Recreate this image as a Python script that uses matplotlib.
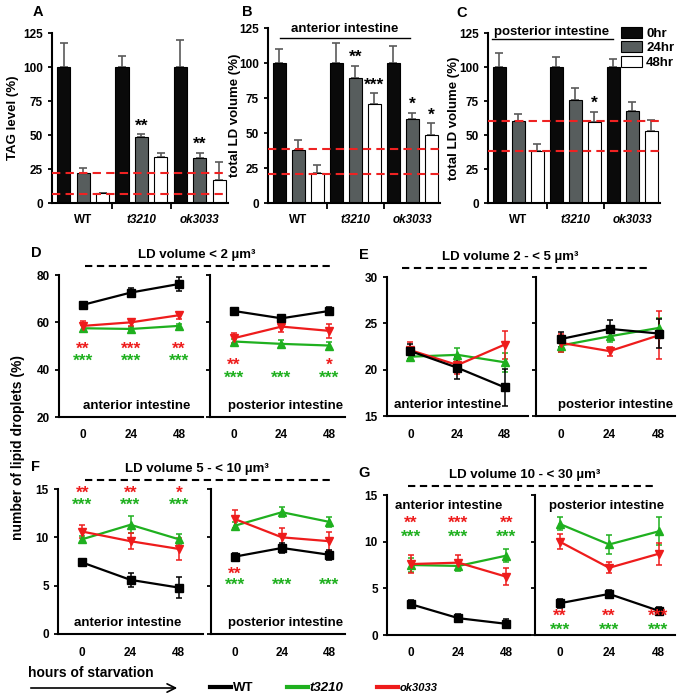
import matplotlib
matplotlib.use("Agg")
import matplotlib.pyplot as plt
from matplotlib.lines import Line2D
from matplotlib.patches import FancyArrowPatch

plt.rcParams["font.family"] = ["Liberation Sans", "DejaVu Sans"]
plt.rcParams["font.weight"] = "bold"
plt.rcParams["axes.labelweight"] = "bold"
plt.rcParams["axes.linewidth"] = 1.5

W, H = 685, 696

# ---------------- bar panels (A-C) ----------------
GROUPS = ["WT", "t3210", "ok3033"]
TIMEPOINTS = ["0hr", "24hr", "48hr"]
BAR_COLORS = ["#0a0a0a", "#575d5d", "white"]

A_MEAN = [[100, 22, 7], [100, 48.5, 34], [100, 33, 17]]
A_ERR = [[18, 3.5, 0.7], [8, 2, 2.5], [20, 4, 13]]
A_STARS = [["", "", ""], ["", "**", ""], ["", "**", ""]]
A_REF = [22, 6.5]

B_MEAN = [[100, 38, 21.5], [100, 89.5, 70.5], [100, 60, 48.5]]
B_ERR = [[10, 7, 6], [14, 8.5, 8], [12.5, 4.5, 8.5]]
B_STARS = [["", "", ""], ["", "**", "***"], ["", "*", "*"]]
B_REF = [38.5, 21]

C_MEAN = [[100, 60, 38.5], [100, 76, 59.5], [100, 67.5, 53]]
C_ERR = [[10, 5.5, 5], [7, 8.5, 7.5], [6, 6.5, 8]]
C_STARS = [["", "", ""], ["", "", "*"], ["", "", ""]]
C_REF = [60, 38]

# ---------------- line panels (D-G) ----------------
HOURS = [0, 24, 48]
STRAINS = ["WT", "t3210", "ok3033"]
LINE_COLORS = ["black", "#1fb01f", "#ee1c1c"]
MARKERS = ["s", "^", "v"]

D_ANT_MEAN = [[67.4, 72.6, 76.2], [57.5, 57.2, 58.5], [58.5, 60.0, 63.0]]
D_ANT_ERR = [[1.0, 2.0, 2.8], [1.5, 1.0, 1.0], [2.0, 1.6, 1.5]]
D_POST_MEAN = [[64.8, 61.7, 64.8], [51.9, 50.9, 50.2], [53.3, 58.2, 56.4]]
D_POST_ERR = [[1.0, 1.0, 1.5], [1.2, 1.5, 1.5], [2.0, 2.2, 3.0]]
D_ANT_STARS = [["**", "***", "**"], ["***", "***", "***"]]
D_POST_STARS = [["**", "", "*"], ["***", "***", "***"]]

E_ANT_MEAN = [[22.0, 20.2, 18.1], [21.4, 21.6, 20.8], [22.1, 20.5, 22.7]]
E_ANT_ERR = [[0.8, 1.2, 2.0], [0.5, 0.7, 1.0], [0.9, 1.0, 1.5]]
E_POST_MEAN = [[23.3, 24.4, 23.9], [22.6, 23.6, 24.5], [22.9, 22.0, 23.7]]
E_POST_ERR = [[0.8, 1.0, 1.6], [0.7, 0.6, 1.1], [1.0, 0.5, 2.6]]

F_ANT_MEAN = [[7.4, 5.6, 4.8], [9.8, 11.3, 9.8], [10.6, 9.6, 8.8]]
F_ANT_ERR = [[0.3, 0.7, 1.1], [0.3, 0.9, 0.5], [0.7, 0.8, 1.1]]
F_POST_MEAN = [[8.0, 8.9, 8.2], [11.2, 12.6, 11.6], [11.9, 10.0, 9.6]]
F_POST_ERR = [[0.4, 0.5, 0.5], [0.4, 0.5, 0.5], [0.9, 1.0, 1.0]]
F_ANT_STARS = [["**", "**", "*"], ["***", "***", "***"]]
F_POST_STARS = [["**", "", ""], ["***", "***", "***"]]

G_ANT_MEAN = [[3.3, 1.8, 1.2], [7.5, 7.4, 8.5], [7.6, 7.75, 6.25]]
G_ANT_ERR = [[0.4, 0.4, 0.5], [0.8, 0.5, 0.7], [1.0, 0.8, 0.9]]
G_POST_MEAN = [[3.4, 4.4, 2.6], [11.9, 9.7, 11.1], [10.0, 7.2, 8.7]]
G_POST_ERR = [[0.5, 0.4, 0.4], [0.7, 1.0, 1.5], [0.8, 0.6, 1.2]]
G_ANT_STARS = [["**", "***", "**"], ["***", "***", "***"]]
G_POST_STARS = [["**", "**", "***"], ["***", "***", "***"]]

fig = plt.figure(figsize=(W / 100, H / 100), dpi=100)


def px_axes(x0, y0, x1, y1):
    return fig.add_axes([x0 / W, 1 - y1 / H, (x1 - x0) / W, (y1 - y0) / H])


def fx(x):
    return x / W


def fy(y):
    return 1 - y / H


def fig_dashed(x0, x1, y):
    fig.add_artist(Line2D([fx(x0), fx(x1)], [fy(y), fy(y)], color="black",
                          lw=1.5, dashes=(3.5, 2.2)))


def bar_panel(ax, means, errs, stars, refs, ylabel, label_x):
    for g in range(3):
        for i in range(3):
            x = g * 3 + i
            ax.bar(x, means[g][i], width=0.67, color=BAR_COLORS[i],
                   edgecolor="black", linewidth=0.8, zorder=2)
            ax.errorbar(x, means[g][i], yerr=[[0], [errs[g][i]]], fmt="none",
                        ecolor="#5a5a5a", elinewidth=1.2, capsize=3,
                        capthick=1.2, zorder=1)
            if stars[g][i]:
                ax.text(x, means[g][i] + errs[g][i] + 0.5, stars[g][i],
                        ha="center", va="bottom", fontsize=12.5)
    for r in refs:
        ax.axhline(r, color="#ee2222", lw=1.5, ls=(0, (4, 2.5)), zorder=3)
    ax.set_ylim(0, 125)
    ax.set_xlim(-0.6, 8.45)
    ax.set_yticks([0, 25, 50, 75, 100, 125])
    ax.set_xticks([2.5, 5.5])
    ax.set_xticklabels([])
    ax.set_xticks([1, 4, 7], GROUPS, minor=True)
    ax.tick_params(axis="x", which="minor", length=0, pad=8, labelsize=8.5)
    ax.tick_params(axis="x", which="major", length=4, width=1.3)
    ax.tick_params(axis="y", length=3, width=1.3, labelsize=8.5)
    for k, lab in enumerate(ax.get_xticklabels(minor=True)):
        if k > 0:
            lab.set_style("italic")
    for s in ["top", "right"]:
        ax.spines[s].set_visible(False)
    ax.set_ylabel(ylabel, fontsize=9.5)
    ax.yaxis.set_label_coords(label_x, 0.5)


axA = px_axes(52, 33, 228, 203)
bar_panel(axA, A_MEAN, A_ERR, A_STARS, A_REF, "TAG level (%)", -0.19)
axB = px_axes(268, 28, 440, 203)
bar_panel(axB, B_MEAN, B_ERR, B_STARS, B_REF, "total LD volume (%)", -0.155)
axC = px_axes(488, 33, 660, 203)
bar_panel(axC, C_MEAN, C_ERR, C_STARS, C_REF, "total LD volume (%)", -0.16)

# region headers over B and C
fig.add_artist(Line2D([fx(280), fx(410)], [fy(38), fy(38)], color="black", lw=1))
fig.text(fx(345), fy(29), "anterior intestine", ha="center", va="center", fontsize=9.5)
fig.add_artist(Line2D([fx(492), fx(613)], [fy(39), fy(39)], color="black", lw=1))
fig.text(fx(552), fy(32), "posterior intestine", ha="center", va="center", fontsize=9.5)

handles = [plt.Rectangle((0, 0), 1, 1, facecolor=c, edgecolor="black", lw=0.8)
           for c in BAR_COLORS]
fig.legend(handles, TIMEPOINTS, loc="upper left",
           bbox_to_anchor=(fx(621), fy(27)), frameon=False, fontsize=9.5,
           handlelength=1.6, handleheight=0.9, handletextpad=0.3,
           labelspacing=0.1, borderaxespad=0, borderpad=0)

for letter, x, y in [("A", 38, 12), ("B", 247, 12), ("C", 462, 13)]:
    fig.text(fx(x), fy(y), letter, ha="center", va="center", fontsize=10.5)


# ---------------- line panels ----------------
def line_panel(ax, means, errs, ylim, yticks, show_labels):
    for k in [1, 2, 0]:
        ax.errorbar(HOURS, means[k], yerr=errs[k], color=LINE_COLORS[k],
                    marker=MARKERS[k], ms=5.5, lw=1.6, elinewidth=1.1,
                    capsize=2.5, capthick=1.1)
    ax.set_ylim(*ylim)
    ax.set_yticks(yticks)
    ax.set_xticks(HOURS)
    ax.tick_params(axis="x", length=0, pad=9, labelsize=8.5)
    ax.tick_params(axis="y", length=3, width=1.3, labelsize=8.5,
                   labelleft=show_labels)
    for s in ["top", "right"]:
        ax.spines[s].set_visible(False)


def put_stars(ax, stars, ys):
    for row, y, col in zip(stars, ys, [LINE_COLORS[2], LINE_COLORS[1]]):
        for h, s in zip(HOURS, row):
            if s:
                ax.text(h, y, s, color=col, ha="center", va="center",
                        fontsize=12.5)


def panel(letter, title, x_left, x_mid0, x_mid1, x_right, y_top, y_bot,
          ant_m, ant_e, post_m, post_e, ylim, yticks, title_x, dash_x):
    axl = px_axes(x_left, y_top, x_mid0, y_bot)
    axr = px_axes(x_mid1, y_top, x_right, y_bot)
    line_panel(axl, ant_m, ant_e, ylim, yticks, True)
    line_panel(axr, post_m, post_e, ylim, yticks, False)
    axl.set_xlim(-12, 60)
    axr.set_xlim(-12, 56)
    fig.text(fx(x_left - 23), fy(y_top - 22), letter, ha="center",
             va="center", fontsize=10.5)
    fig.text(fx(title_x), fy(y_top - 20), title, ha="center", va="center",
             fontsize=9.5)
    fig_dashed(dash_x[0], dash_x[1], y_top - 9)
    return axl, axr


dl, dr = panel("D", "LD volume < 2 µm³", 59, 203, 210, 345, 275, 417,
               D_ANT_MEAN, D_ANT_ERR, D_POST_MEAN, D_POST_ERR,
               (20, 80), [20, 40, 60, 80], 197, (85, 333))
put_stars(dl, D_ANT_STARS, [48.7, 43.5])
put_stars(dr, D_POST_STARS, [42.0, 36.5])
dl.text(0.54, 0.077, "anterior intestine", transform=dl.transAxes,
        ha="center", va="center", fontsize=9.5)
dr.text(0.56, 0.077, "posterior intestine", transform=dr.transAxes,
        ha="center", va="center", fontsize=9.5)

el, er = panel("E", "LD volume 2 - < 5 µm³", 387, 528, 536, 675, 277, 416,
               E_ANT_MEAN, E_ANT_ERR, E_POST_MEAN, E_POST_ERR,
               (15, 30), [15, 20, 25, 30], 510, (402, 650))
el.text(0.43, 0.08, "anterior intestine", transform=el.transAxes,
        ha="center", va="center", fontsize=9.5)
er.text(0.57, 0.08, "posterior intestine", transform=er.transAxes,
        ha="center", va="center", fontsize=9.5)

fl, fr = panel("F", "LD volume 5 - < 10 µm³", 58, 203, 211, 345, 489, 634,
               F_ANT_MEAN, F_ANT_ERR, F_POST_MEAN, F_POST_ERR,
               (0, 15), [0, 5, 10, 15], 197, (85, 333))
put_stars(fl, F_ANT_STARS, [14.6, 13.3])
put_stars(fr, F_POST_STARS, [6.2, 5.0])
fl.text(0.48, 0.075, "anterior intestine", transform=fl.transAxes,
        ha="center", va="center", fontsize=9.5)
fr.text(0.56, 0.075, "posterior intestine", transform=fr.transAxes,
        ha="center", va="center", fontsize=9.5)

gl, gr = panel("G", "LD volume 10 - < 30 µm³", 387, 530, 535, 675, 495, 635,
               G_ANT_MEAN, G_ANT_ERR, G_POST_MEAN, G_POST_ERR,
               (0, 15), [0, 5, 10, 15], 525, (408, 657))
put_stars(gl, G_ANT_STARS, [12.0, 10.5])
put_stars(gr, G_POST_STARS, [2.0, 0.55])
gl.text(0.43, 0.92, "anterior intestine", transform=gl.transAxes,
        ha="center", va="center", fontsize=9.5)
gr.text(0.51, 0.92, "posterior intestine", transform=gr.transAxes,
        ha="center", va="center", fontsize=9.5)

fig.text(fx(18), fy(447), "number of lipid droplets (%)", rotation=90,
         ha="center", va="center", fontsize=10)

# bottom annotations
fig.text(fx(28), fy(673), "hours of starvation", ha="left", va="center",
         fontsize=10)
fig.add_artist(FancyArrowPatch((fx(28), fy(688)), (fx(180), fy(688)),
                               arrowstyle="->,head_length=6,head_width=3",
                               color="black", lw=1.2,
                               transform=fig.transFigure))
legend_lines = [Line2D([0], [0], color=c, lw=3) for c in LINE_COLORS]
leg = fig.legend(legend_lines, STRAINS, loc="center left",
                 bbox_to_anchor=(fx(210), fy(688)), ncol=3, frameon=False,
                 fontsize=9.5, handlelength=1.6, handletextpad=0.15,
                 columnspacing=2.5, borderaxespad=0, borderpad=0)
for k, t in enumerate(leg.get_texts()):
    if k > 0:
        t.set_style("italic")
    if k == 2:
        t.set_fontsize(8)

fig.savefig("out.png", dpi=100)
